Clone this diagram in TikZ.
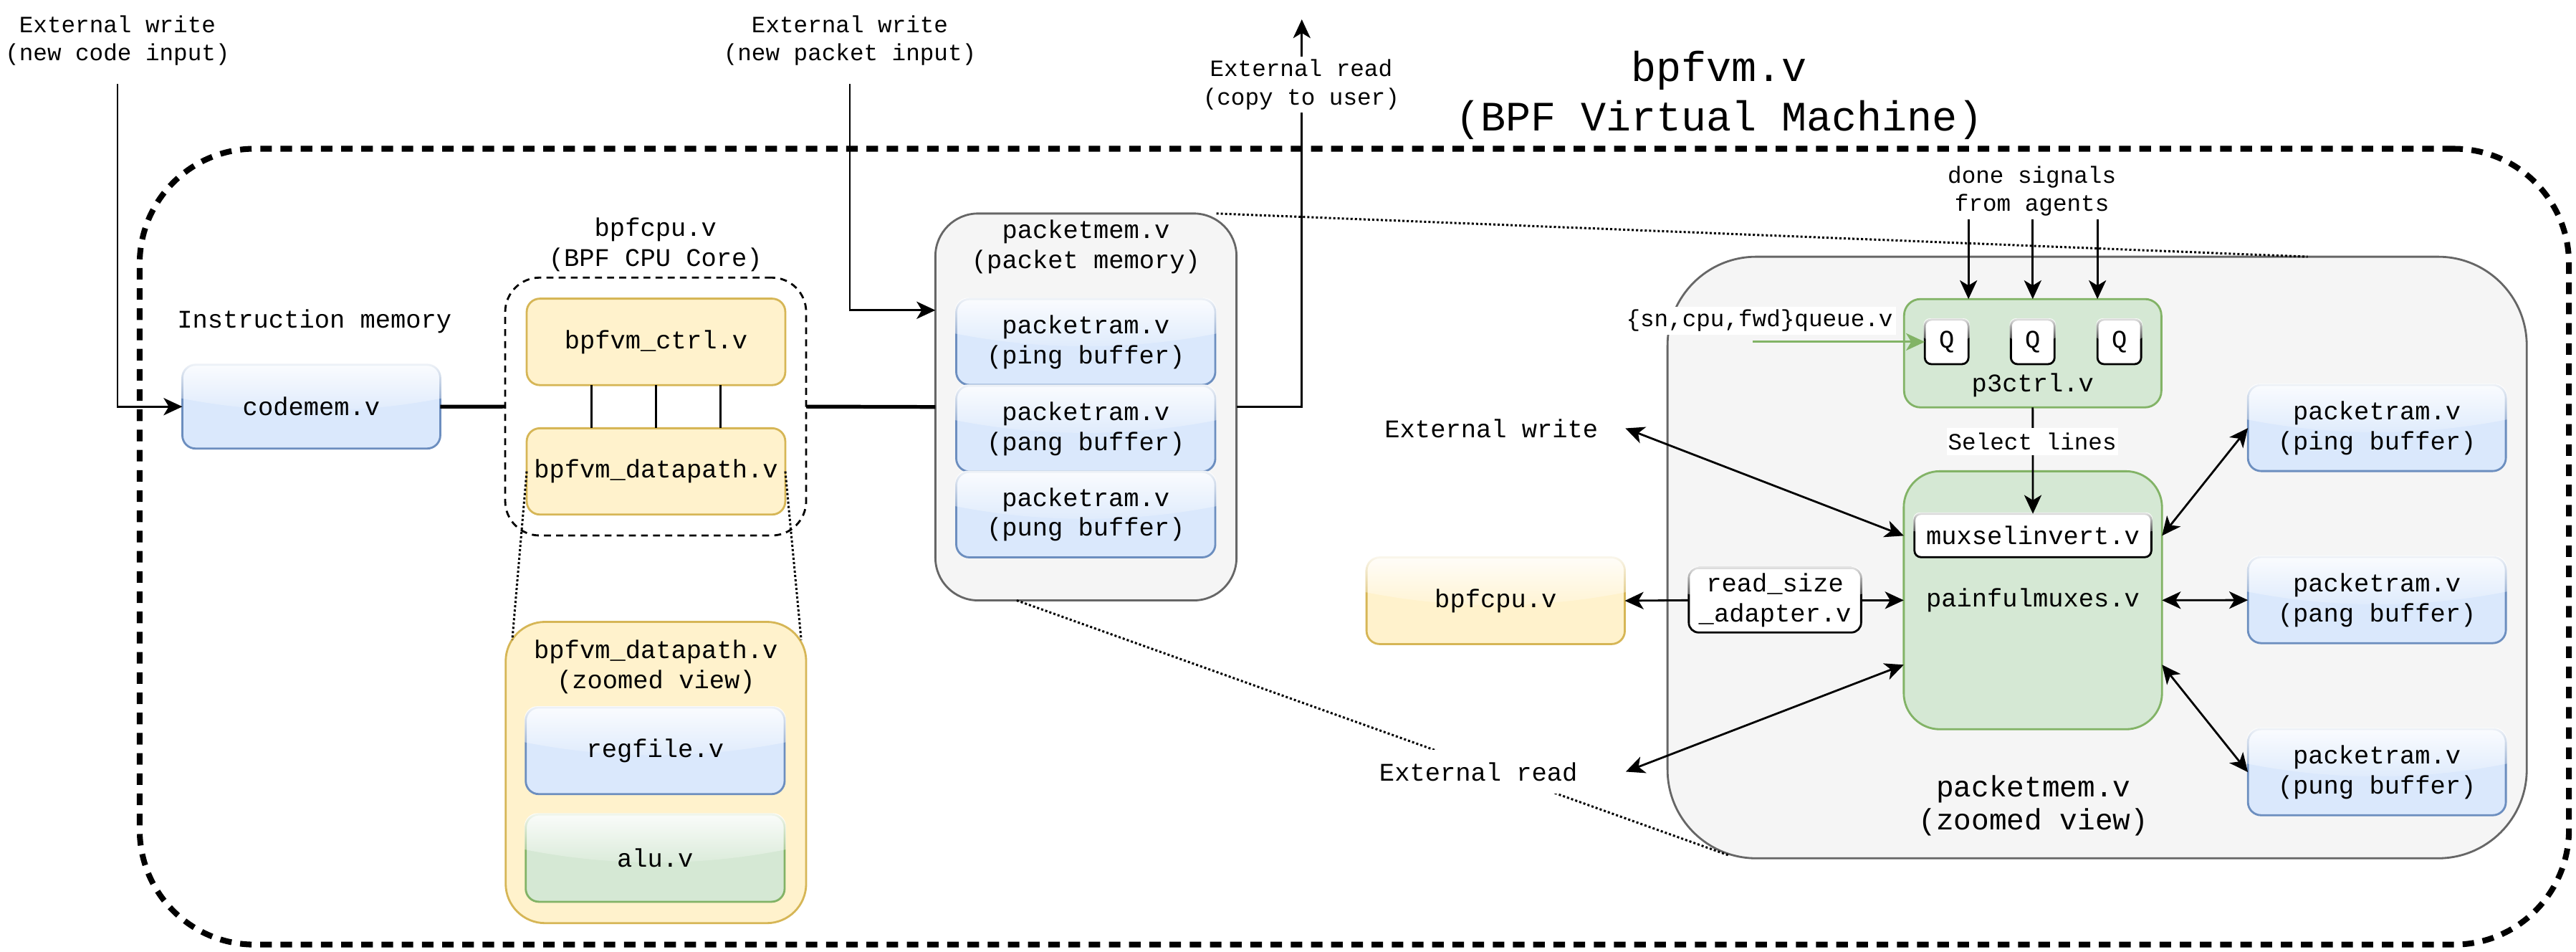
\documentclass[tikz,border=0pt]{standalone}
\usepackage{fontspec}
\newfontfamily\mono{Liberation Mono}
\usetikzlibrary{arrows.meta,calc,fadings}
\definecolor{bluef}{HTML}{DAE8FC}\definecolor{bluel}{HTML}{6C8EBF}
\definecolor{yelf}{HTML}{FFF2CC}\definecolor{yell}{HTML}{D6B656}
\definecolor{grnf}{HTML}{D5E8D4}\definecolor{grnl}{HTML}{82B366}
\definecolor{grayf}{HTML}{F5F5F5}\definecolor{grayl}{HTML}{666666}
\tikzfading[name=glassfade, top color=transparent!10, bottom color=transparent!90]
\newcommand\fsmall{\mono\fontsize{8.1pt}{9.7pt}\selectfont}
\newcommand\fnorm{\mono\fontsize{8.8pt}{10.4pt}\selectfont}
\newcommand\fbig{\mono\fontsize{10.2pt}{11.6pt}\selectfont}
\newcommand\ftitle{\mono\fontsize{14.5pt}{17pt}\selectfont}
% glass highlight over node #1 (corner radius #2), then its text #3
\newcommand\glassfx[3]{%
  \begin{scope}
    \clip[rounded corners=#2] ($(#1.north west)+(-0.8,-0.8)$) rectangle ($(#1.south east)+(0.8,0.8)$);
    \coordinate (gA) at ($(#1.north west)!0.4!(#1.south west)+(-1,0)$);
    \coordinate (gB) at ($(#1.north east)!0.4!(#1.south east)+(1,0)$);
    \coordinate (gC) at ($(#1.north)!0.7!(#1.south)$);
    \fill[white, path fading=glassfade] ($(#1.north west)+(-1,-1)$) -- ($(#1.north east)+(1,-1)$) -- (gB)
      .. controls ($(gB)!0.6667!(gC)$) and ($(gA)!0.6667!(gC)$) .. (gA) -- cycle;
  \end{scope}
  \node[lbl] (#1T) at (#1.center) {#3};}
\begin{document}
\begin{tikzpicture}[x=0.02cm, y=-0.02cm, line width=0.7pt,
  box/.style={draw, inner sep=0pt, outer sep=0pt, align=center, font=\fnorm},
  sz/.style 2 args={minimum width=#1*0.02cm, minimum height=#2*0.02cm},
  blu/.style={box, fill=bluef, draw=bluel, rounded corners=0.16cm},
  yel/.style={box, fill=yelf, draw=yell, rounded corners=0.16cm},
  grn/.style={box, fill=grnf, draw=grnl},
  gry/.style={box, fill=grayf, draw=grayl},
  wht/.style={box, fill=white, draw=black},
  lbl/.style={inner sep=0pt, outer sep=0pt, align=center, font=\fnorm},
  slbl/.style={lbl, font=\fsmall},
  bus/.style={line width=1.3pt},
  dots/.style={dash pattern=on 0.75pt off 0.75pt, line width=0.75pt},
  arr/.style={-{Stealth[length=6.5pt,width=6pt,inset=1.8pt]}},
  darr/.style={{Stealth[length=6.5pt,width=6pt,inset=1.8pt]}-{Stealth[length=6.5pt,width=6pt,inset=1.8pt]}}]
\useasboundingbox (0,0) rectangle (1568,579);

% containers
\node[box, line width=2pt, dash pattern=on 4pt off 3pt, rounded corners=1.4cm, sz={1478.7}{484.2}] (vm) at (824.35,332.6) {};
\node[gry, rounded corners=1.08cm, sz={523}{366}] (pmz) at (1276.5,339.2) {};
\node[gry, rounded corners=0.52cm, sz={183.3}{235.4}] (pmem) at (661,247.6) {};
\node[box, dash pattern=on 2.4pt off 1.8pt, rounded corners=0.42cm, sz={183.2}{156.9}] (cpubox) at (399.1,247.35) {};
\node[yel, rounded corners=0.48cm, sz={182.9}{183.3}] (dpz) at (399.25,470) {};

% inner nodes
\node[blu, sz={157}{51}] (codemem) at (189.5,247.4) {};
\node[yel, sz={157.4}{52.6}] (ctrl) at (399.3,208) {bpfvm\_ctrl.v};
\node[yel, sz={157.4}{52.5}] (dp) at (399.3,286.8) {bpfvm\_datapath.v};
\node[blu, sz={157.6}{52.7}] (regfile) at (398.8,456.8) {};
\node[grn, rounded corners=0.16cm, sz={157.6}{53.1}] (alu) at (398.8,522.1) {};
\node[blu, sz={157.7}{52.2}] (pr1) at (660.9,208.1) {};
\node[blu, sz={157.7}{52.2}] (pr2) at (660.9,260.8) {};
\node[blu, sz={157.7}{52.0}] (pr3) at (660.9,313.1) {};
\node[yel, sz={157.2}{52.7}] (cpu2) at (910.4,365.5) {};
\node[wht, rounded corners=0.12cm, sz={104.9}{39.2}] (rsa) at (1080.4,365.2) {};
\node[grn, rounded corners=0.2cm, sz={156.6}{65.9}] (p3) at (1237.3,214.9) {};
\node[wht, rounded corners=0.08cm, sz={26.6}{27.1}] (q1) at (1184.9,208) {};
\node[wht, rounded corners=0.08cm, sz={26.6}{27.1}] (q2) at (1237.3,208) {};
\node[wht, rounded corners=0.08cm, sz={26.6}{27.1}] (q3) at (1290,208) {};
\node[lbl] (p3l) at (1237.3,234.2) {p3ctrl.v};
\node[grn, rounded corners=0.44cm, sz={157.2}{157}] (mux) at (1237.4,365.2) {painfulmuxes.v};
\node[wht, rounded corners=0.08cm, sz={144.2}{26.4}] (msi) at (1237.4,325.8) {};
\node[blu, sz={157}{52.4}] (rp1) at (1446.8,260.4) {};
\node[blu, sz={157}{52.4}] (rp2) at (1446.8,365.1) {};
\node[blu, sz={157}{52.4}] (rp3) at (1446.8,469.8) {};

% glass highlights with texts on top
\glassfx{codemem}{0.16cm}{codemem.v}
\glassfx{regfile}{0.16cm}{regfile.v}
\glassfx{alu}{0.16cm}{alu.v}
\glassfx{pr1}{0.16cm}{packetram.v\\(ping buffer)}
\glassfx{pr2}{0.16cm}{packetram.v\\(pang buffer)}
\glassfx{pr3}{0.16cm}{packetram.v\\(pung buffer)}
\glassfx{cpu2}{0.16cm}{bpfcpu.v}
\glassfx{rp1}{0.16cm}{packetram.v\\(ping buffer)}
\glassfx{rp2}{0.16cm}{packetram.v\\(pang buffer)}
\glassfx{rp3}{0.16cm}{packetram.v\\(pung buffer)}
\glassfx{rsa}{0.12cm}{read\_size\\\_adapter.v}
\glassfx{q1}{0.08cm}{Q}
\glassfx{q2}{0.08cm}{Q}
\glassfx{q3}{0.08cm}{Q}
\glassfx{msi}{0.08cm}{muxselinvert.v}

% plain labels
\node[slbl, sz={1}{53}] (lcw) at (71.5,24.7) {External write\\(new code input)};
\node[slbl, sz={1}{53}] (lpw) at (517.3,24.7) {External write\\(new packet input)};
\node[lbl, font=\ftitle] (title) at (1046.4,58) {bpfvm.v\\(BPF Virtual Machine)};
\node[lbl] (lim) at (191.4,195.5) {Instruction memory};
\node[lbl] (lcpu) at (399,149) {bpfcpu.v\\(BPF CPU Core)};
\node[lbl] (lpm) at (661,150) {packetmem.v\\(packet memory)};
\node[lbl] (ldpz) at (399.25,405.6) {bpfvm\_datapath.v\\(zoomed view)};
\node[lbl, font=\fbig] (lpmz) at (1237.7,490.2) {packetmem.v\\(zoomed view)};
\node[slbl, sz={1}{34.2}] (ldone) at (1236.8,116.4) {done signals\\from agents};
\node[lbl, sz={163.2}{20}] (lew) at (907.8,260.6) {External write};
\coordinate (rdtop) at (792.4,11.8);
\coordinate (qs) at (1067,208);

% lines under labels
\draw[dots] (dp.west) -- ($(dpz.north west)+(4,11)$);
\draw[dots] (dp.east) -- ($(dpz.north east)+(-3,11)$);
\draw[dots] (pmem.56.5) -- ($(pmz.north west)!0.745!(pmz.north east)$);
\draw[dots] ($(pmem.south west)!0.27!(pmem.south east)$) -- ($(pmz.south west)+(37,-1.9)$);
\draw[arr] (pmem.east) -| (rdtop);
\draw[arr] (p3.south) -- (msi.north);

% labels with white background
\node[lbl, fill=white, sz={179.4}{27}] (ler) at (899.9,469.5) {External read};
\node[slbl, fill=white, inner xsep=1pt, sz={1}{34}] (lrd) at (792,51.5) {External read\\(copy to user)};
\node[slbl, fill=white, inner xsep=0.5pt, sz={1}{16.3}] (lsel) at (1237,268.7) {Select lines};
\node[slbl, fill=white, inner xsep=1pt, sz={1}{17}] (lq) at (1071,195.2) {\{sn,cpu,fwd\}queue.v};

% connectors
\draw[arr] (lcw.south) |- (codemem.west);
\draw[arr] (lpw.south) |- ($(pmem.north west)!0.25!(pmem.south west)$);
\draw[bus] (codemem.east) -- (cpubox.west);
\draw[bus] (cpubox.east) -- (pmem.west);
\foreach \f in {0.25,0.5,0.75}
  \draw ($(ctrl.south west)!\f!(ctrl.south east)$) -- ($(dp.north west)!\f!(dp.north east)$);
\draw[arr, grnl] (qs) -- (q1.west);
\draw[arr] (ldone.south -| q1.east) -- (p3.north -| q1.east);
\draw[arr] (ldone.south -| q2) -- (p3.north -| q2);
\draw[arr] (ldone.south -| q3.west) -- (p3.north -| q3.west);
\draw[darr] (lew.east) -- ($(mux.north west)!0.25!(mux.south west)$);
\draw[darr] (ler.east) -- ($(mux.north west)!0.75!(mux.south west)$);
\draw[arr] (rsa.west) -- (cpu2.east);
\draw[arr] (rsa.east) -- (mux.west);
\draw[darr] ($(mux.north east)!0.25!(mux.south east)$) -- (rp1.west);
\draw[darr] (mux.east) -- (rp2.west);
\draw[darr] ($(mux.north east)!0.75!(mux.south east)$) -- (rp3.west);
\end{tikzpicture}
\end{document}
